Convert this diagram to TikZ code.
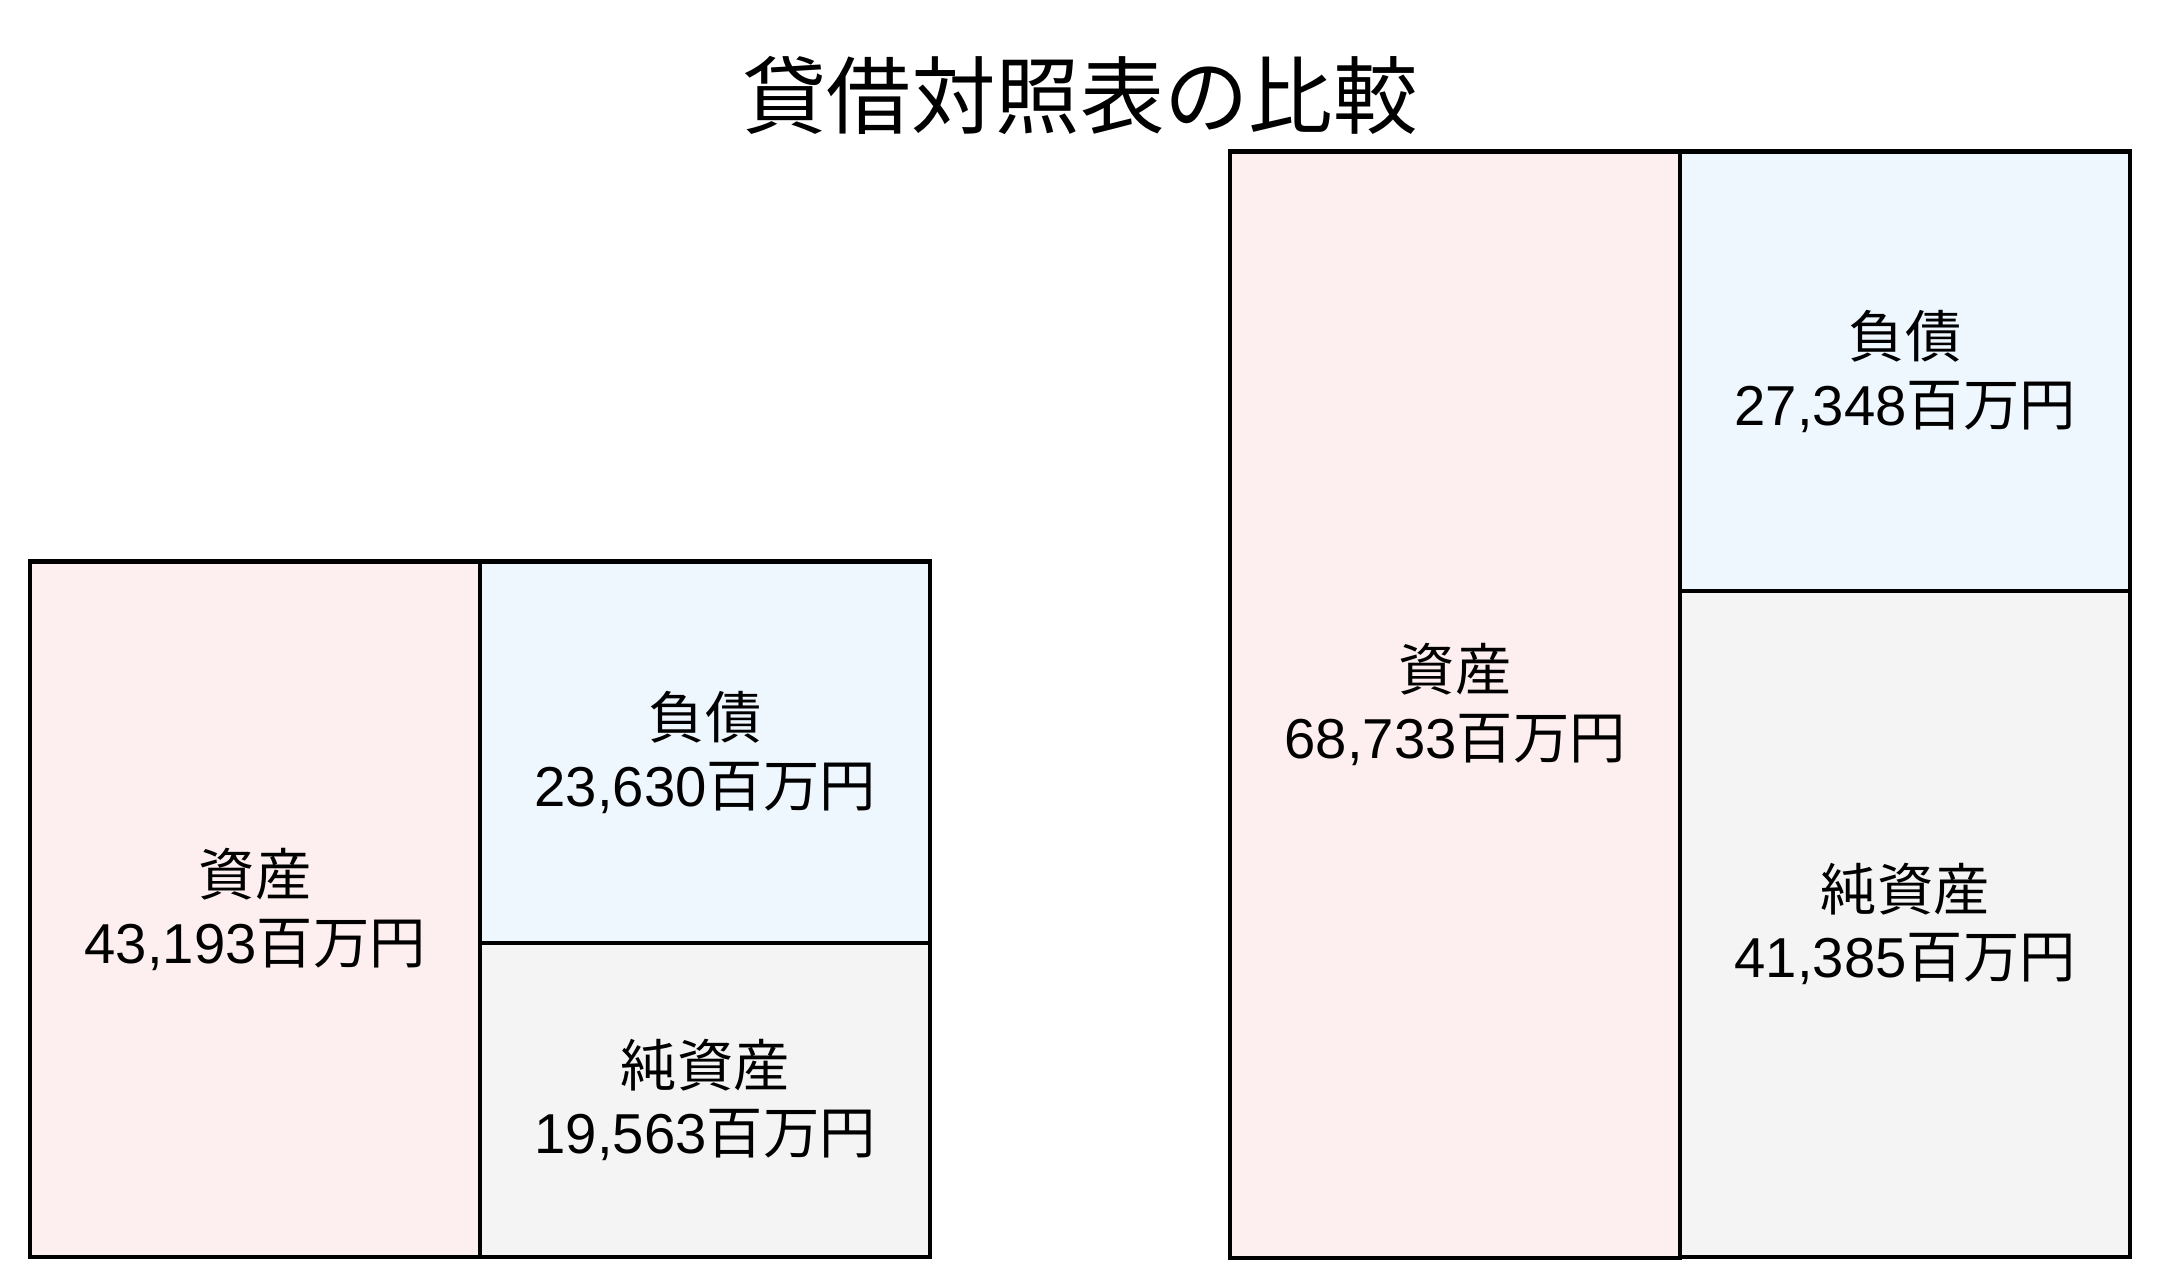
\documentclass[tikz,border=0pt]{standalone}
\usepackage{fontspec}
\setmainfont{Liberation Sans}
\newfontfamily\jpfont{Noto Sans CJK JP}
\newcommand\JPtxt[1]{{\jpfont #1}}
\definecolor{assetfill}{RGB}{253,239,239}
\definecolor{liabfill}{RGB}{238,246,254}
\definecolor{netfill}{RGB}{244,244,244}
\begin{document}
\begin{tikzpicture}[x=0.01cm,y=-0.01cm]
\tikzset{
  blk/.style={draw=black,line width=1.15pt,rectangle,inner sep=0pt,outer sep=0pt,anchor=north west,
    align=center,font=\fontsize{16}{19.2}\selectfont,minimum width=4.5cm},
  titletxt/.style={font=\jpfont\fontsize{24}{28}\selectfont,inner sep=0pt}
}
\useasboundingbox (0,0) rectangle (2160,1288);
\fill[white] (0,0) rectangle (2160,1288);

\node (title) [titletxt] at (1080,95) {貸借対照表の比較};

% left balance sheet
\node (la) [blk,fill=assetfill,minimum height=6.955cm] at (30,561.5) {\JPtxt{資産}\\43,193\JPtxt{百万円}};
\node (ll) [blk,fill=liabfill,minimum height=3.815cm] at (480,561.5) {\JPtxt{負債}\\23,630\JPtxt{百万円}};
\node (ln) [blk,fill=netfill,minimum height=3.14cm] at (480,943) {\JPtxt{純資産}\\19,563\JPtxt{百万円}};

% right balance sheet
\node (ra) [blk,fill=assetfill,minimum height=11.055cm] at (1230,151.5) {\JPtxt{資産}\\68,733\JPtxt{百万円}};
\node (rl) [blk,fill=liabfill,minimum height=4.395cm] at (1680,151.5) {\JPtxt{負債}\\27,348\JPtxt{百万円}};
\node (rn) [blk,fill=netfill,minimum height=6.66cm] at (1680,591) {\JPtxt{純資産}\\41,385\JPtxt{百万円}};
\end{tikzpicture}
\end{document}
